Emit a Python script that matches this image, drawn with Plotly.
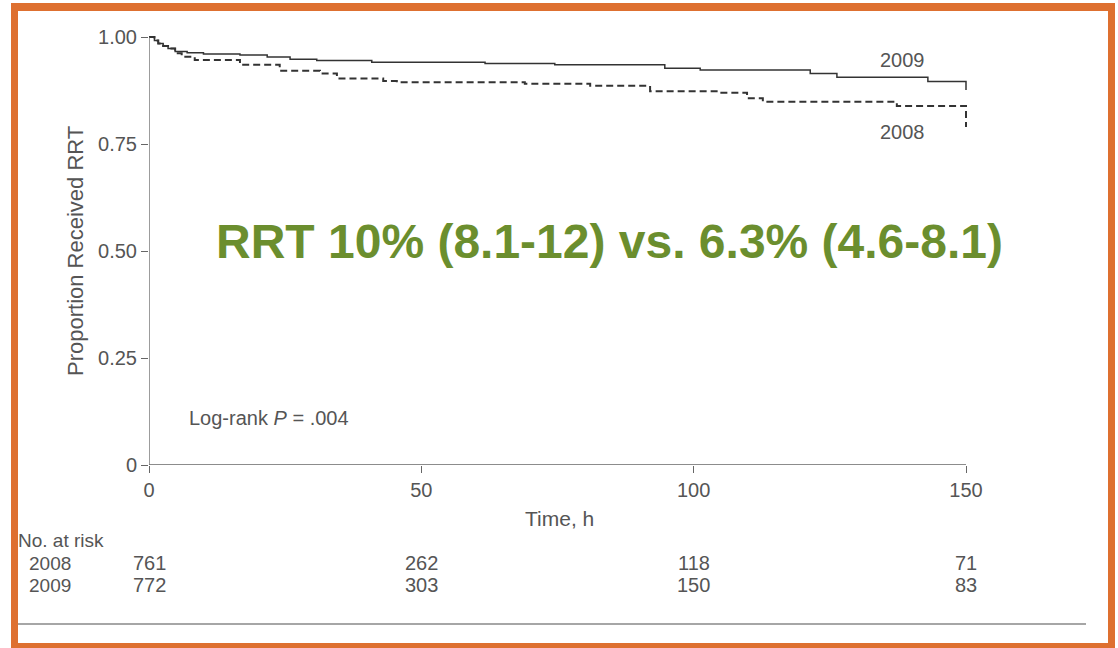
import plotly.graph_objects as go

# Kaplan-Meier style step curves (time in hours, proportion)
times_2009 = [0, 1.0, 1.7, 2.6, 3.5, 4.8, 7.0, 10.0, 16.7, 21.7, 25.9, 30.8, 40.9,
              61.7, 74.5, 94.7, 101.2, 121.4, 126.3, 143.0, 150.0, 150.0]
surv_2009 = [1.0, 0.992, 0.985, 0.979, 0.973, 0.966, 0.963, 0.960, 0.958, 0.953, 0.948,
             0.945, 0.941, 0.938, 0.935, 0.927, 0.923, 0.915, 0.906, 0.896, 0.896, 0.876]

times_2008 = [0, 1.0, 1.7, 2.6, 3.5, 4.8, 6.0, 8.4, 16.7, 24.0, 31.4, 34.5, 43.0,
              45.5, 69.0, 81.0, 92.0, 104.8, 109.8, 112.7, 137.3, 150.0, 150.0]
surv_2008 = [1.0, 0.992, 0.985, 0.979, 0.973, 0.962, 0.954, 0.946, 0.935, 0.921, 0.915,
             0.903, 0.897, 0.894, 0.891, 0.886, 0.873, 0.870, 0.857, 0.849, 0.839, 0.839, 0.790]

# Number at risk table
risk_times = [0, 50, 100, 150]
risk_2008 = [761, 262, 118, 71]
risk_2009 = [772, 303, 150, 83]

x_ticks = [0, 50, 100, 150]
y_ticks = [0, 0.25, 0.50, 0.75, 1.00]
y_ticktext = ["0", "0.25", "0.50", "0.75", "1.00"]

W, H = 1118, 648
FONT = "Liberation Sans, Arial, Helvetica, sans-serif"
GRAY = "#555555"
LINE = "#333333"
ORANGE = "#DE7030"
GREEN = "#6B8E2E"
TXT = 20


def px(x):
    """pixel column -> paper x"""
    return x / W


def py(y):
    """pixel row -> paper y"""
    return 1 - y / H


# plot area in pixels: x 0 -> 149, x 150 -> 966 ; y 0 -> 465, y 1 -> 37
x0_px, x150_px = 149, 966
y0_px, y1_px = 465, 37
x_max, y_max = 151, 1.005
x_right_px = x0_px + (x150_px - x0_px) * x_max / 150
y_top_px = y0_px - (y0_px - y1_px) * y_max

fig = go.Figure()
fig.add_trace(go.Scatter(x=times_2009, y=surv_2009, mode="lines", line_shape="hv",
                         line=dict(color=LINE, width=1.5), showlegend=False))
fig.add_trace(go.Scatter(x=times_2008, y=surv_2008, mode="lines", line_shape="hv",
                         line=dict(color=LINE, width=2, dash="7px,4px"), showlegend=False))

fig.update_layout(
    width=W, height=H, autosize=False,
    margin=dict(l=0, r=0, t=0, b=0, pad=0, autoexpand=False),
    paper_bgcolor="white", plot_bgcolor="white",
    font=dict(family=FONT, color=GRAY, size=TXT),
    xaxis=dict(domain=[px(x0_px), px(x_right_px)], range=[0, x_max], automargin=False,
               tickvals=x_ticks, ticks="outside", ticklen=7, tickcolor="#666",
               tickwidth=1, showgrid=False, zeroline=False, showline=False,
               tickfont=dict(size=TXT, color=GRAY)),
    yaxis=dict(domain=[py(y0_px), py(y_top_px)], range=[0, y_max], automargin=False,
               tickvals=y_ticks, ticktext=y_ticktext, ticks="outside", ticklen=7,
               tickcolor="#666", tickwidth=1, showgrid=False, zeroline=False,
               showline=False, tickfont=dict(size=TXT, color=GRAY)),
)

shapes = [
    # axis spines
    dict(type="line", xref="x", yref="y", x0=0, x1=150, y0=0, y1=0,
         line=dict(color="#666", width=1.3)),
    dict(type="line", xref="x", yref="y", x0=0, x1=0, y0=0, y1=1.0,
         line=dict(color="#666", width=1.3)),
    # rule under the risk table
    dict(type="line", xref="paper", yref="paper", x0=px(18), x1=px(1086),
         y0=py(624), y1=py(624), line=dict(color="#888", width=1.5)),
    # orange frame (four bands)
    dict(type="rect", xref="paper", yref="paper", x0=px(11), x1=px(18),
         y0=py(648), y1=py(3), fillcolor=ORANGE, line=dict(width=0)),
    dict(type="rect", xref="paper", yref="paper", x0=px(1108), x1=px(1115),
         y0=py(648), y1=py(3), fillcolor=ORANGE, line=dict(width=0)),
    dict(type="rect", xref="paper", yref="paper", x0=px(11), x1=px(1115),
         y0=py(11), y1=py(3), fillcolor=ORANGE, line=dict(width=0)),
    dict(type="rect", xref="paper", yref="paper", x0=px(11), x1=px(1115),
         y0=py(648), y1=py(643), fillcolor=ORANGE, line=dict(width=0)),
]
fig.update_layout(shapes=shapes)

ann = []
# axis titles
ann.append(dict(text="Proportion Received RRT", xref="paper", yref="paper",
                x=px(75), y=py(251), textangle=-90, showarrow=False,
                font=dict(size=22, color=GRAY), xanchor="center", yanchor="middle"))
ann.append(dict(text="Time, h", xref="paper", yref="paper", x=px(559), y=py(518),
                showarrow=False, font=dict(size=21, color=GRAY),
                xanchor="center", yanchor="middle"))
# curve labels
ann.append(dict(text="2009", xref="x", yref="paper", x=138.4, y=py(60),
                showarrow=False, font=dict(size=TXT, color=GRAY),
                xanchor="center", yanchor="middle"))
ann.append(dict(text="2008", xref="x", yref="paper", x=138.4, y=py(132),
                showarrow=False, font=dict(size=TXT, color=GRAY),
                xanchor="center", yanchor="middle"))
# statistics
ann.append(dict(text="Log-rank <i>P</i> = .004", xref="paper", yref="paper",
                x=px(187), y=py(418), showarrow=False,
                font=dict(size=20, color=GRAY), xanchor="left", yanchor="middle"))
ann.append(dict(text="<b>RRT 10% (8.1-12) vs. 6.3% (4.6-8.1)</b>", xref="paper",
                yref="paper", x=px(609), y=py(241), showarrow=False,
                font=dict(size=48, color=GREEN, family=FONT),
                xanchor="center", yanchor="middle"))
# risk table
ann.append(dict(text="No. at risk", xref="paper", yref="paper", x=px(16), y=py(540),
                showarrow=False, font=dict(size=19, color=GRAY),
                xanchor="left", yanchor="middle"))
for label, counts, yy in (("2008", risk_2008, 563), ("2009", risk_2009, 585)):
    ann.append(dict(text=label, xref="paper", yref="paper", x=px(27), y=py(yy),
                    showarrow=False, font=dict(size=19, color=GRAY),
                    xanchor="left", yanchor="middle"))
    for t, n in zip(risk_times, counts):
        ann.append(dict(text=str(n), xref="x", yref="paper", x=t, y=py(yy),
                        showarrow=False, font=dict(size=TXT, color=GRAY),
                        xanchor="center", yanchor="middle"))
fig.update_layout(annotations=ann)

fig.write_html("out.html")
